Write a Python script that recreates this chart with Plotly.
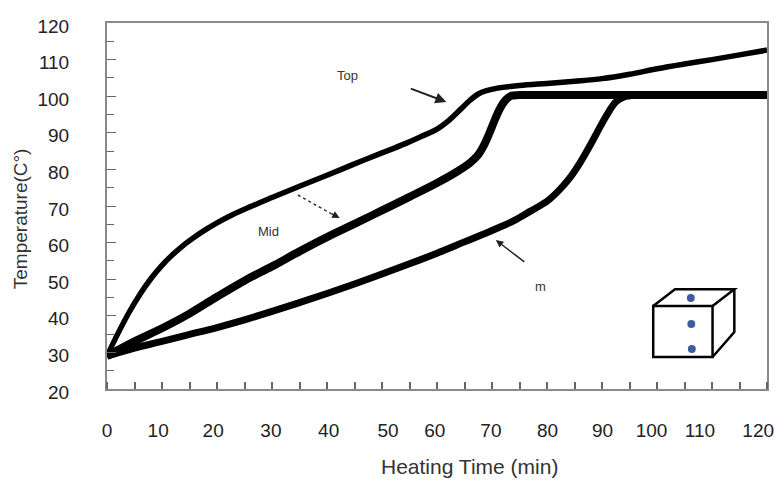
import plotly.graph_objects as go

# ---- data ----
time_top = [0, 2, 4, 6, 8, 10, 12, 14, 16, 18, 20, 22, 25, 30, 35, 40, 45, 50, 54, 57, 60, 62, 64,
            66, 67.5, 69, 71, 75, 80, 85, 90, 95, 100, 105, 110, 115, 120]
temp_top = [29, 35.2, 40.9, 45.9, 50.2, 53.8, 56.8, 59.4, 61.6, 63.6, 65.4, 67.0, 69.1, 72.3, 75.4,
            78.4, 81.5, 84.5, 86.9, 88.9, 91.0, 93.2, 96.0, 98.9, 100.6, 101.5, 102.2, 102.9, 103.5,
            104.1, 104.8, 106.0, 107.5, 108.8, 110.0, 111.3, 112.6]

time_mid = [0, 5, 10, 15, 20, 25, 30, 35, 40, 45, 50, 55, 60, 63, 66, 67.5, 68.5, 69.5, 70.5,
            71.5, 72.5, 73.5, 75, 80, 90, 100, 110, 120]
temp_mid = [29, 33, 36.6, 40.6, 45.2, 49.6, 53.5, 57.6, 61.5, 65.1, 68.8, 72.5, 76.3, 78.8, 81.8,
            84.0, 86.5, 89.8, 93.5, 96.8, 99.0, 100.1, 100.3, 100.3, 100.3, 100.3, 100.3, 100.3]

time_bot = [0, 5, 10, 15, 20, 25, 30, 35, 40, 45, 50, 55, 60, 65, 70, 74, 77, 80, 82, 84, 86,
            88, 89.5, 91, 92.5, 94, 96, 100, 110, 120]
temp_bot = [29, 31.2, 33.0, 34.9, 36.8, 38.9, 41.2, 43.6, 46.1, 48.7, 51.4, 54.2, 57.1, 60.2, 63.3,
            66.0, 68.6, 71.3, 74.0, 77.4, 81.8, 87.0, 91.2, 95.2, 98.4, 99.8, 100.3, 100.3, 100.3, 100.3]

series_names = ["Top", "Mid", "m"]

xtick_labels = ["0", "10", "20", "30", "40", "50", "60", "70", "80", "90", "100", "110", "120"]
xtick_pos = [0, 9.3, 19.3, 29.8, 40.3, 51.1, 59.6, 69.8, 80.1, 90.1, 99.0, 107.8, 118.4]

FONT = "Liberation Sans, Arial, sans-serif"
AXC = "#8a8a8a"
TKC = "#666"

fig = go.Figure()
for xs, ys, w, nm in [(time_top, temp_top, 5.5, series_names[0]),
                      (time_mid, temp_mid, 8, series_names[1]),
                      (time_bot, temp_bot, 7, series_names[2])]:
    fig.add_trace(go.Scatter(x=xs, y=ys, mode="lines", name=nm,
                             line=dict(color="black", width=w, shape="spline", smoothing=1.0),
                             showlegend=False, hoverinfo="skip"))

fig.update_layout(
    width=781, height=483,
    margin=dict(l=107, r=7, t=23, b=94),
    paper_bgcolor="white", plot_bgcolor="white",
    font=dict(family=FONT, color="#222", size=19),
    xaxis=dict(range=[0, 120], showgrid=False, zeroline=False,
               showline=True, linecolor=AXC, linewidth=2, mirror=True,
               tickmode="array", tickvals=xtick_pos, ticktext=xtick_labels, ticks="",
               minor=dict(tickmode="linear", tick0=0, dtick=5, ticks="inside", ticklen=7,
                          tickcolor=TKC, tickwidth=1.5, showgrid=False),
               tickfont=dict(size=19, family=FONT, color="#222"),
               ticklabelstandoff=23),
    yaxis=dict(range=[20, 120], showgrid=False, zeroline=False,
               showline=True, linecolor=AXC, linewidth=2, mirror=True,
               ticks="inside", tickmode="linear", tick0=20, dtick=10, ticklen=9,
               tickcolor=TKC, tickwidth=1.2,
               minor=dict(ticks="inside", dtick=5, ticklen=7, tickcolor=TKC, tickwidth=1.2),
               tickfont=dict(size=19, family=FONT, color="#222"),
               ticklabelstandoff=32, ticklabelshift=3),
)

# axis titles
fig.add_annotation(text="Heating Time (min)", xref="paper", yref="paper",
                   x=0.549, y=-0.213, showarrow=False, xanchor="center", yanchor="middle",
                   font=dict(size=21, family=FONT, color="#333"))
fig.add_annotation(text="Temperature(C°)", xref="paper", yref="paper",
                   x=-0.130, y=0.4645, showarrow=False, textangle=-90,
                   xanchor="center", yanchor="middle",
                   font=dict(size=19, family=FONT, color="#333"))

# curve labels and pointer arrows
fig.add_annotation(text="Top", x=43.7, y=105.6, showarrow=False,
                   font=dict(size=13, family=FONT, color="#333"))
fig.add_annotation(text="", x=61.7, y=98.4, ax=-37, ay=-14, showarrow=True,
                   arrowhead=2, arrowsize=1.1, arrowwidth=2, arrowcolor="#222")

fig.add_annotation(text="Mid", x=29.3, y=62.9, showarrow=False,
                   font=dict(size=13, family=FONT, color="#333"))
fig.add_shape(type="line", x0=34.7, y0=73.0, x1=41.0, y1=67.7,
              line=dict(color="#333", width=1.5, dash="dot"))
fig.add_annotation(text="", x=42.3, y=66.7, ax=-9, ay=-5, showarrow=True,
                   arrowhead=2, arrowsize=1, arrowwidth=1.5, arrowcolor="#222")

fig.add_annotation(text="m", x=78.8, y=47.9, showarrow=False,
                   font=dict(size=13, family=FONT, color="#333"))
fig.add_annotation(text="", x=70.7, y=60.7, ax=30, ay=23, showarrow=True,
                   arrowhead=2, arrowsize=1, arrowwidth=1.5, arrowcolor="#222")

# cube inset (decorative, paper coordinates)
cube = dict(color="black", width=2.5)
fx0, fx1, fy0, fy1 = 0.8276, 0.9175, 0.0874, 0.2268
bx0, bx1, by1, by0 = 0.8606, 0.9505, 0.2724, 0.1557
fig.add_shape(type="rect", xref="paper", yref="paper", x0=fx0, x1=fx1, y0=fy0, y1=fy1, line=cube)
fig.add_shape(type="path", xref="paper", yref="paper",
              path=f"M {fx0} {fy1} L {bx0} {by1} L {bx1} {by1} L {fx1} {fy1} "
                   f"M {bx1} {by1} L {bx1} {by0} L {fx1} {fy0}",
              line=cube)
for (dx, dy) in [(0.8846, 0.2486), (0.8853, 0.1776), (0.8861, 0.1093)]:
    fig.add_shape(type="circle", xref="paper", yref="paper",
                  x0=dx - 0.006, x1=dx + 0.006, y0=dy - 0.011, y1=dy + 0.011,
                  fillcolor="#3d5d9c", line=dict(width=0))

fig.write_html("out.html")
